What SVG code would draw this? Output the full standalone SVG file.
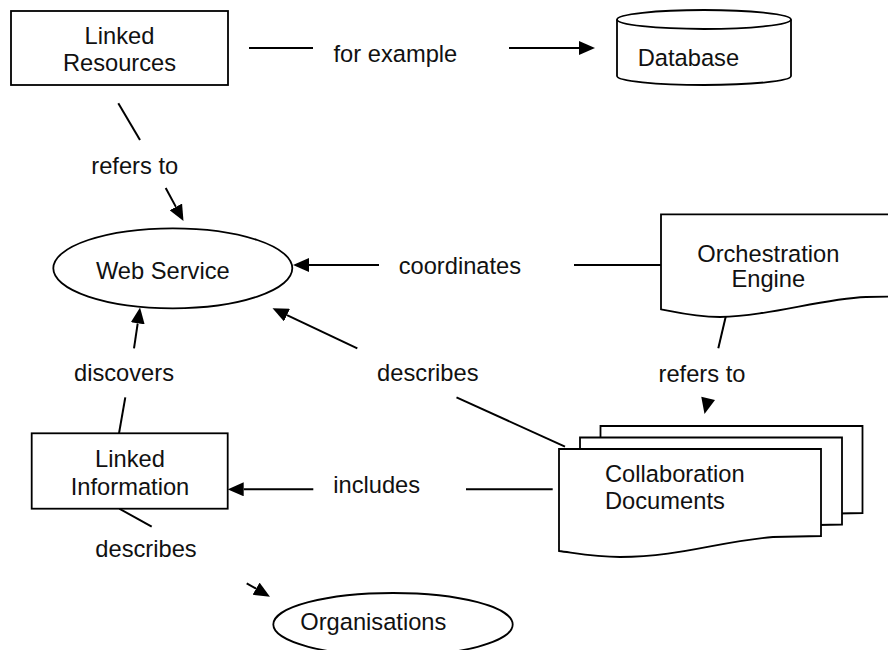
<svg xmlns="http://www.w3.org/2000/svg" xmlns:xlink="http://www.w3.org/1999/xlink" width="888" height="650" viewBox="0 0 888 650">
  <style>
    text { font-family: "Liberation Sans", Arial, Helvetica, sans-serif; font-size: 23.7px; fill: #111; }
    .c { text-anchor: middle; }
    .shape { fill: #fff; stroke: #000; stroke-width: 1.8; }
    .edge { fill: none; stroke: #000; stroke-width: 2; }
    .arrow { marker-end: url(#head); }
  </style>
  <defs>
    <marker id="head" viewBox="0 0 16 14" refX="0" refY="7" markerWidth="16" markerHeight="14" markerUnits="userSpaceOnUse" orient="auto">
      <path d="M0,0 L16,7 L0,14 Z" fill="#000"/>
    </marker>
    <!-- document sheet with a wavy lower edge -->
    <path id="sheet" d="M559,449 H821 V536 L773,537 C720,541 680,557 620,557 C595,557 575,553 559,551 Z"/>
  </defs>

  <rect width="888" height="650" fill="#fff"/>

  <!-- connectors -->
  <g id="connectors">
    <!-- Linked Resources -> Database -->
    <line class="edge" x1="249" y1="48" x2="313" y2="48"/>
    <line class="edge arrow" x1="509" y1="48" x2="579" y2="48"/>
    <text class="c" x="395.4" y="61.5">for example</text>

    <!-- Linked Resources -> Web Service -->
    <line class="edge" x1="118.3" y1="103.3" x2="140" y2="140"/>
    <line class="edge arrow" x1="165.7" y1="188" x2="175.9" y2="206.9"/>
    <text class="c" x="134.7" y="174">refers to</text>

    <!-- Orchestration Engine -> Web Service -->
    <line class="edge" x1="661" y1="265" x2="574" y2="265"/>
    <line class="edge arrow" x1="379" y1="265" x2="309" y2="265"/>
    <text class="c" x="459.9" y="274">coordinates</text>

    <!-- Collaboration Documents -> Web Service -->
    <line class="edge" x1="565" y1="446.7" x2="456.5" y2="397.3"/>
    <line class="edge arrow" x1="357.3" y1="348.3" x2="287" y2="315.1"/>
    <text class="c" x="427.8" y="380.7">describes</text>

    <!-- Linked Information -> Web Service -->
    <line class="edge" x1="119" y1="433.3" x2="125.3" y2="397.3"/>
    <line class="edge arrow" x1="134" y1="348.3" x2="137.7" y2="323.3"/>
    <text class="c" x="124" y="381">discovers</text>

    <!-- Orchestration Engine -> Collaboration Documents -->
    <line class="edge" x1="725.7" y1="316.7" x2="718.3" y2="348.3"/>
    <path d="M701.3,396.8 L715,400 L704.5,414 Z" fill="#000"/>
    <text class="c" x="702" y="381.7">refers to</text>

    <!-- Collaboration Documents -> Linked Information -->
    <line class="edge" x1="552.7" y1="489.3" x2="466" y2="489.3"/>
    <line class="edge arrow" x1="313.3" y1="489.3" x2="243.7" y2="489.3"/>
    <text class="c" x="376.7" y="492.7">includes</text>

    <!-- Linked Information -> Organisations -->
    <line class="edge" x1="119.3" y1="508.7" x2="151.7" y2="526.7"/>
    <line class="edge arrow" x1="246.7" y1="583.3" x2="256.1" y2="588.7"/>
    <text class="c" x="146" y="557.3">describes</text>
  </g>

  <g id="linked-resources">
    <rect class="shape" x="11" y="11" width="217" height="74"/>
    <text class="c" x="119.5" y="44.3">Linked</text>
    <text class="c" x="119.5" y="71">Resources</text>
  </g>

  <g id="database">
    <path class="shape" d="M617,19.5 V76 A87,9 0 0 0 791,76 V19.5"/>
    <ellipse class="shape" cx="704" cy="19.5" rx="87" ry="9.5"/>
    <text x="637.7" y="66">Database</text>
  </g>

  <g id="web-service">
    <ellipse class="shape" cx="172.8" cy="268.3" rx="119.5" ry="40"/>
    <text class="c" x="162.8" y="279.3">Web Service</text>
  </g>

  <g id="orchestration-engine">
    <path class="shape" d="M661,214.3 H892 V296.5 L866,297 C820,299 770,316 720,317 C695,317 675,312 661,309.3 Z"/>
    <text class="c" x="768.3" y="261.7">Orchestration</text>
    <text class="c" x="768.3" y="287">Engine</text>
  </g>

  <g id="linked-information">
    <rect class="shape" x="31.7" y="433.3" width="196" height="75.4"/>
    <text class="c" x="130" y="466.7">Linked</text>
    <text class="c" x="130" y="495">Information</text>
  </g>

  <g id="collaboration-documents">
    <use xlink:href="#sheet" class="shape" transform="translate(41.5,-23)"/>
    <use xlink:href="#sheet" class="shape" transform="translate(21,-11.5)"/>
    <use xlink:href="#sheet" class="shape"/>
    <text x="605" y="481.7">Collaboration</text>
    <text x="605" y="509">Documents</text>
  </g>

  <g id="organisations">
    <ellipse class="shape" cx="393" cy="624.5" rx="119.7" ry="31.5"/>
    <text class="c" x="373.3" y="630">Organisations</text>
  </g>
</svg>
